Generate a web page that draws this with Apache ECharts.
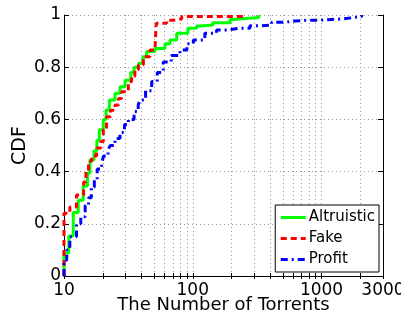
<!DOCTYPE html>
<html>
<head>
<meta charset="utf-8">
<script src="https://cdn.jsdelivr.net/npm/echarts@6/dist/echarts.min.js"></script>
<style>
  html, body { margin: 0; padding: 0; background: #fff; }
  #chart { width: 401px; height: 315px; }
</style>
</head>
<body>
<div id="chart"></div>
<script>
// CDF of number of torrents per publisher type
const seriesNames = ['Altruistic', 'Fake', 'Profit'];

const altruistic = [
    [10, 0], [10, 0.088], [10.9, 0.153], [11.8, 0.243], [12.9, 0.29], [14.1, 0.345],
    [15.2, 0.394], [15.9, 0.444], [17.1, 0.48], [18, 0.52], [18.8, 0.56], [20.2, 0.6],
    [21.2, 0.636], [22.5, 0.674], [24.9, 0.70], [27.2, 0.725], [29.8, 0.75], [33, 0.78],
    [35, 0.80], [38, 0.815], [41, 0.84], [43.8, 0.86], [50.9, 0.872], [60.8, 0.89],
    [66.5, 0.904], [75, 0.93], [91.8, 0.949], [107, 0.958], [114, 0.962], [143, 0.97],
    [195, 0.983], [206, 0.99], [326, 1]
];

const fake = [
    [10, 0], [10, 0.24], [11.1, 0.264], [12.5, 0.31], [14.2, 0.36], [14.8, 0.40],
    [15.5, 0.44], [16.4, 0.46], [17.9, 0.49], [19.3, 0.515], [20.2, 0.56], [21.4, 0.61],
    [23, 0.635], [24.9, 0.655], [26.5, 0.68], [28, 0.706], [31.6, 0.744], [33.5, 0.764],
    [35.5, 0.79], [37.8, 0.808], [41.3, 0.84], [46.5, 0.866], [51, 0.88], [52, 0.968],
    [62.7, 0.98], [70.4, 0.985], [82, 0.994], [250, 1]
];

const profit = [
    [10, 0], [10, 0.06], [10.5, 0.1], [11.1, 0.15], [12.5, 0.2], [13.5, 0.227],
    [14.6, 0.27], [15.5, 0.3], [16.3, 0.34], [17.2, 0.37], [18.1, 0.41], [19.6, 0.43],
    [20.3, 0.46], [22, 0.483], [22.8, 0.5], [24.9, 0.527], [27.2, 0.55], [29.5, 0.58],
    [31.6, 0.6], [35, 0.63], [37.7, 0.655], [38.9, 0.674], [43, 0.71], [48, 0.745],
    [53, 0.78], [59, 0.82], [68, 0.845], [79.5, 0.866], [90, 0.89], [101, 0.904],
    [124, 0.93], [153, 0.943], [183, 0.949], [232, 0.949], [278, 0.959], [343, 0.962],
    [410, 0.972], [505, 0.977], [621, 0.98], [766, 0.98], [944, 0.983], [1197, 0.985],
    [1473, 0.991], [1820, 0.994], [2050, 1]
];

// ticks / grid lines on the log axis (MATLAB style)
const xTickValues = [10, 20, 30, 40, 50, 60, 70, 80, 90,
    100, 200, 300, 400, 500, 600, 700, 800, 900, 1000, 2000, 3000];
const xLabelValues = [10, 100, 1000, 3000];

const colors = ['#00ff00', '#ff0000', '#0000ff'];
const dashes = ['solid', [6, 4], [7, 4, 2, 4]];

const font = 'DejaVu Sans';
const chart = echarts.init(document.getElementById('chart'), null, { renderer: 'canvas' });

const gridLine = { show: true, lineStyle: { color: '#999', type: [1, 3], width: 1 } };

const option = {
    animation: false,
    backgroundColor: '#fff',
    grid: { left: 64, right: 18, top: 15, bottom: 39, containLabel: false, outerBoundsMode: 'none' },
    legend: {
        data: seriesNames.map((name, i) => ({
            name: name,
            itemStyle: { opacity: 0 },
            lineStyle: { color: colors[i], width: 3, type: dashes[i] }
        })),
        orient: 'vertical',
        right: 22,
        bottom: 43,
        padding: [5, 4, 5, 4],
        itemGap: 6,
        itemWidth: 25,
        itemHeight: 14,
        backgroundColor: '#fff',
        borderColor: '#000',
        borderWidth: 1,
        borderRadius: 0,
        textStyle: { fontFamily: font, fontSize: 15, color: '#000', padding: [0, 0, 0, -2] }
    },
    xAxis: [{
        type: 'log',
        logBase: 10,
        min: 10,
        max: 3000,
        name: 'The Number of Torrents',
        nameLocation: 'middle',
        nameGap: 20,
        nameMoveOverlap: false,
        nameTextStyle: { fontFamily: font, fontSize: 18, color: '#000' },
        axisLine: { lineStyle: { color: '#000', width: 1 } },
        axisTick: { inside: true, length: 3, customValues: xTickValues, lineStyle: { color: '#000' } },
        axisLabel: {
            customValues: xLabelValues,
            fontFamily: font, fontSize: 17, color: '#000', margin: 6,
            formatter: v => String(Math.round(v))
        },
        splitLine: gridLine,
        minorTick: { show: false },
        minorSplitLine: { show: false }
    }, {
        type: 'log',
        logBase: 10,
        min: 10,
        max: 3000,
        position: 'top',
        axisLine: { lineStyle: { color: '#000', width: 1 } },
        axisTick: { inside: true, length: 3, customValues: xTickValues, lineStyle: { color: '#000' } },
        axisLabel: { show: false },
        splitLine: { show: false }
    }],
    yAxis: [{
        type: 'value',
        min: 0,
        max: 1,
        interval: 0.2,
        name: 'CDF',
        nameLocation: 'middle',
        nameGap: 34,
        nameMoveOverlap: false,
        nameTextStyle: { fontFamily: font, fontSize: 19, color: '#000' },
        axisLine: { show: true, lineStyle: { color: '#000', width: 1 } },
        axisTick: { show: true, inside: true, length: 5, lineStyle: { color: '#000' } },
        axisLabel: { fontFamily: font, fontSize: 17, color: '#000', margin: 3 },
        splitLine: gridLine
    }, {
        type: 'value',
        min: 0,
        max: 1,
        interval: 0.2,
        position: 'right',
        axisLine: { show: true, lineStyle: { color: '#000', width: 1 } },
        axisTick: { show: true, inside: true, length: 5, lineStyle: { color: '#000' } },
        axisLabel: { show: false },
        splitLine: { show: false }
    }],
    series: seriesNames.map((name, i) => ({
        name: name,
        type: 'line',
        step: 'end',
        data: [altruistic, fake, profit][i],
        symbol: 'none',
        z: 3 + i,
        lineStyle: { color: colors[i], width: 3, type: dashes[i] },
        itemStyle: { color: colors[i] }
    }))
};

chart.setOption(option);
</script>
</body>
</html>
